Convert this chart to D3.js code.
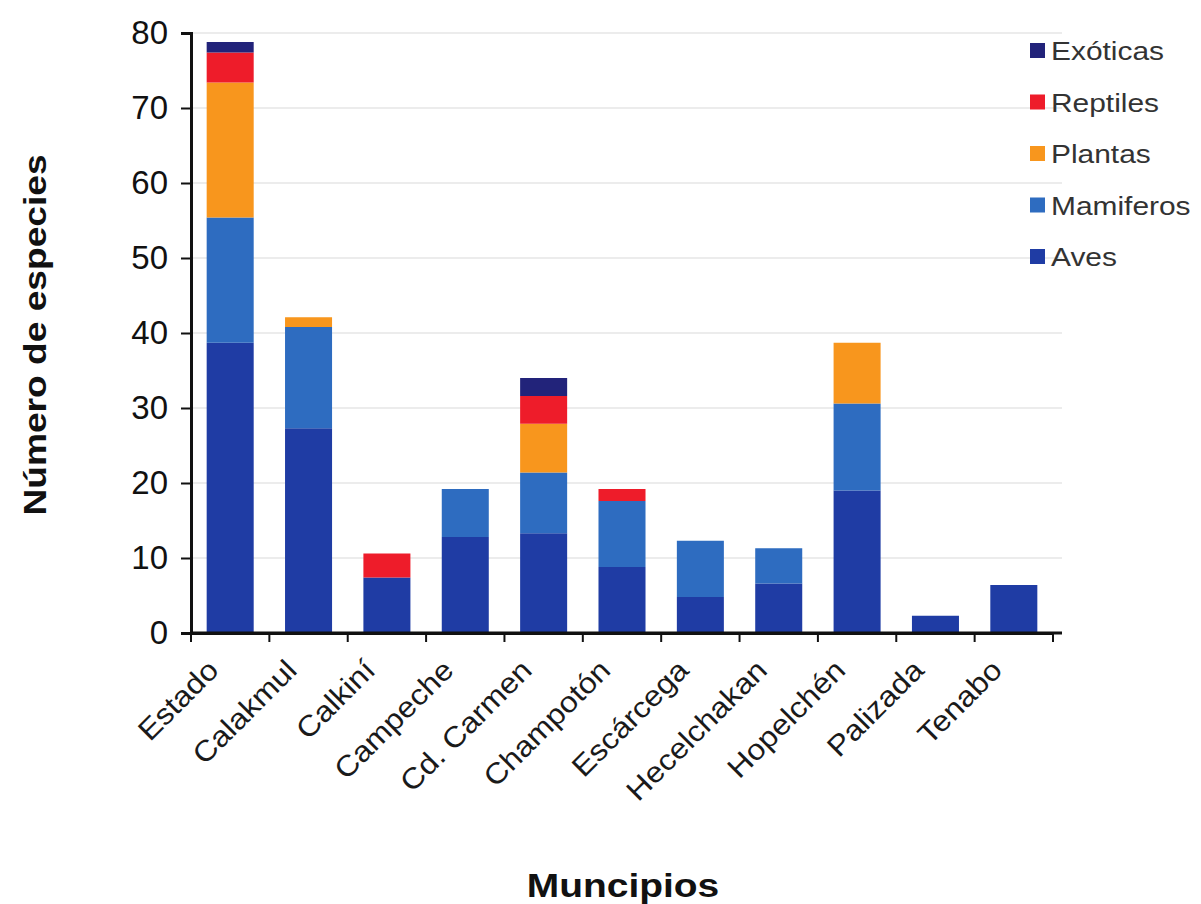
<!DOCTYPE html>
<html>
<head>
<meta charset="utf-8">
<script src="https://d3js.org/d3.v7.min.js"></script>
<style>
  body { margin: 0; background: #fff; }
  text { font-family: "Liberation Sans", Arial, sans-serif; }
</style>
</head>
<body>
<script>
// categories and series
var municipios = ["Estado", "Calakmul", "Calkiní", "Campeche", "Cd. Carmen", "Champotón",
                  "Escárcega", "Hecelchakan", "Hopelchén", "Palizada", "Tenabo"];
var aves      = [38.7, 27.3, 7.4, 12.8, 13.3, 8.8, 4.8, 6.6, 19, 2.3, 6.4];
var mamiferos = [16.7, 13.5, 0, 6.4, 8.1, 8.8, 7.5, 4.7, 11.6, 0, 0];
var plantas   = [18, 1.3, 0, 0, 6.5, 0, 0, 0, 8.1, 0, 0];
var reptiles  = [4, 0, 3.2, 0, 3.7, 1.6, 0, 0, 0, 0, 0];
var exoticas  = [1.4, 0, 0, 0, 2.4, 0, 0, 0, 0, 0, 0];
var yTicks = [0, 10, 20, 30, 40, 50, 60, 70, 80];

var seriesNames = ["Aves", "Mamiferos", "Plantas", "Reptiles", "Exóticas"];
var seriesData = [aves, mamiferos, plantas, reptiles, exoticas];
var colors = ["#1f3ca4", "#2e6cc0", "#f8961d", "#ee1c2a", "#22237a"];

var width = 1201, height = 904;

var svg = d3.select("body").append("svg")
    .attr("width", width)
    .attr("height", height);

// the reference text is a bit wider than Arial, stretch it
function stretch(sel, k) {
    sel.each(function () {
        var len = this.getComputedTextLength();
        d3.select(this).attr("textLength", len * k).attr("lengthAdjust", "spacingAndGlyphs");
    });
}

// scales
var x = d3.scaleBand().domain(municipios).range([191, 1053]).paddingInner(0.4).paddingOuter(0.2);
var y = d3.scaleLinear().domain([0, 80]).range([633, 33]);

// table for the stack
var table = municipios.map(function (m, i) {
    var row = { municipio: m };
    seriesNames.forEach(function (s, j) { row[s] = seriesData[j][i]; });
    return row;
});
var stacked = d3.stack().keys(seriesNames)(table);

// gridlines
svg.append("g")
    .selectAll("line")
    .data(yTicks.slice(1))
    .enter().append("line")
    .attr("x1", 191).attr("x2", 1062)
    .attr("y1", function (d) { return y(d); })
    .attr("y2", function (d) { return y(d); })
    .attr("stroke", "#ececec")
    .attr("stroke-width", 2);

// bars
svg.append("g")
    .selectAll("g")
    .data(stacked)
    .enter().append("g")
    .attr("fill", function (d, i) { return colors[i]; })
    .selectAll("rect")
    .data(function (d) { return d; })
    .enter().append("rect")
    .attr("x", function (d) { return x(d.data.municipio); })
    .attr("width", x.bandwidth())
    .attr("y", function (d) { return y(d[1]); })
    .attr("height", function (d) { return y(d[0]) - y(d[1]); });

// y axis
var yAxis = svg.append("g")
    .attr("transform", "translate(191,0)")
    .call(d3.axisLeft(y).tickValues(yTicks).tickSize(10).tickPadding(13));
yAxis.selectAll("text").attr("font-size", 33).attr("fill", "#111");

// x axis
var xAxis = svg.append("g")
    .attr("transform", "translate(0,633)")
    .call(d3.axisBottom(x).tickSize(0).tickFormat(""));
// ticks at band boundaries
xAxis.selectAll(".bnd")
    .data(municipios.concat(["end"]))
    .enter().append("line")
    .attr("class", "bnd")
    .attr("x1", function (d, i) { return x.range()[0] + x.step() * (x.paddingOuter() - x.paddingInner() / 2) + i * x.step(); })
    .attr("x2", function (d, i) { return x.range()[0] + x.step() * (x.paddingOuter() - x.paddingInner() / 2) + i * x.step(); })
    .attr("y1", 0).attr("y2", 9)
    .attr("stroke", "#111").attr("stroke-width", 2);
xAxis.append("line")
    .attr("x1", 191).attr("x2", 1062).attr("y1", 0).attr("y2", 0)
    .attr("stroke", "#111").attr("stroke-width", 3);

svg.selectAll(".domain").attr("stroke", "#111").attr("stroke-width", 3);
svg.selectAll(".tick line").attr("stroke", "#111").attr("stroke-width", 2);

// rotated x labels
var xl = svg.append("g")
    .selectAll("text")
    .data(municipios)
    .enter().append("text")
    .attr("transform", function (d) {
        return "translate(" + (x(d) + x.bandwidth() / 2 - 10) + ",672) rotate(-45)";
    })
    .attr("text-anchor", "end")
    .attr("font-size", 29)
    .attr("fill", "#1a1a1a")
    .text(function (d) { return d; });
stretch(xl, 1.1);

// axis titles
var yt = svg.append("text")
    .attr("transform", "translate(46,335) rotate(-90)")
    .attr("text-anchor", "middle")
    .attr("font-size", 32)
    .attr("font-weight", "bold")
    .attr("fill", "#111")
    .text("Número de especies");
stretch(yt, 1.16);

var xt = svg.append("text")
    .attr("x", 623).attr("y", 897)
    .attr("text-anchor", "middle")
    .attr("font-size", 33)
    .attr("font-weight", "bold")
    .attr("fill", "#111")
    .text("Muncipios");
stretch(xt, 1.18);

// legend (top to bottom: reverse of stack order)
var legend = svg.append("g")
    .selectAll("g")
    .data(seriesNames.slice().reverse())
    .enter().append("g")
    .attr("transform", function (d, i) { return "translate(1030," + (50 + i * 51.5) + ")"; });
legend.append("rect")
    .attr("x", 0).attr("y", -7)
    .attr("width", 15).attr("height", 15)
    .attr("fill", function (d) { return colors[seriesNames.indexOf(d)]; });
var lt = legend.append("text")
    .attr("x", 21).attr("y", 1)
    .attr("dy", "0.35em")
    .attr("font-size", 26)
    .attr("fill", "#333")
    .text(function (d) { return d; });
stretch(lt, 1.15);
</script>
</body>
</html>
